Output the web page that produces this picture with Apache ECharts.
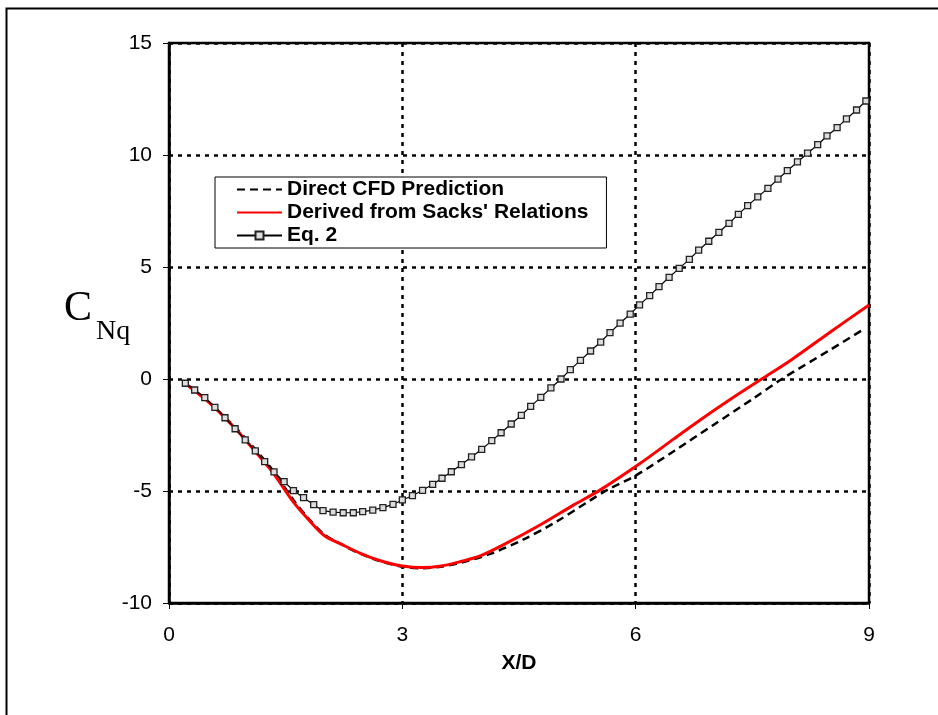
<!DOCTYPE html>
<html>
<head>
<meta charset="utf-8">
<script src="https://cdn.jsdelivr.net/npm/echarts@6/dist/echarts.min.js"></script>
<style>
html,body{margin:0;padding:0;background:#fff;}
#c{width:938px;height:715px;}
</style>
</head>
<body>
<div id="c"></div>
<script>
// ---- data ----
var seriesNames = ["Direct CFD Prediction", "Derived from Sacks' Relations", "Eq. 2"];
var xTicks = [0, 3, 6, 9];
var yTicks = [-10, -5, 0, 5, 10, 15];

var cfdX = [0.21, 0.5, 0.85, 1.1, 1.34, 1.6, 1.8, 2.0, 2.2, 2.46, 2.75, 3.0, 3.25, 3.5, 3.75, 4.13, 4.56, 4.98, 5.41, 5.63, 6.01, 6.5, 7.0, 7.5, 7.88, 8.5, 8.93];
var cfdY = [-0.2, -1.0, -2.15, -3.1, -4.1, -5.4, -6.25, -6.95, -7.35, -7.8, -8.17, -8.38, -8.45, -8.38, -8.2, -7.81, -7.16, -6.37, -5.43, -4.96, -4.29, -3.2, -2.05, -0.9, 0.0, 1.3, 2.22];

var sacksX = [0.21, 0.5, 0.85, 1.1, 1.34, 1.6, 1.8, 2.0, 2.2, 2.46, 2.75, 3.0, 3.25, 3.5, 3.75, 4.0, 4.34, 4.77, 5.2, 5.54, 6.06, 6.5, 6.83, 7.2, 7.62, 8.0, 8.54, 9.0];
var sacksY = [-0.2, -1.0, -2.2, -3.2, -4.2, -5.5, -6.3, -7.0, -7.35, -7.78, -8.15, -8.35, -8.42, -8.35, -8.15, -7.9, -7.33, -6.52, -5.63, -4.96, -3.76, -2.65, -1.83, -0.95, 0.0, 0.85, 2.19, 3.3];

var eq2X = [0.21, 0.33, 0.46, 0.59, 0.72, 0.85, 0.98, 1.11, 1.23, 1.35, 1.48, 1.60, 1.73, 1.86, 1.98, 2.11, 2.24, 2.37, 2.49, 2.62, 2.75, 2.88, 3.00, 3.13, 3.26, 3.39, 3.51, 3.63, 3.76, 3.89, 4.02, 4.15, 4.27, 4.40, 4.53, 4.65, 4.78, 4.91, 5.04, 5.16, 5.29, 5.42, 5.55, 5.67, 5.80, 5.93, 6.05, 6.18, 6.30, 6.43, 6.56, 6.69, 6.81, 6.94, 7.07, 7.20, 7.32, 7.44, 7.57, 7.70, 7.83, 7.95, 8.08, 8.21, 8.34, 8.46, 8.59, 8.71, 8.84, 8.96, 9.09];
var eq2Y = [-0.19, -0.49, -0.83, -1.27, -1.73, -2.22, -2.72, -3.21, -3.69, -4.15, -4.58, -4.98, -5.30, -5.61, -5.88, -5.94, -5.97, -5.97, -5.92, -5.85, -5.74, -5.60, -5.40, -5.21, -4.97, -4.70, -4.43, -4.14, -3.82, -3.48, -3.14, -2.75, -2.40, -2.01, -1.62, -1.22, -0.82, -0.40, 0.00, 0.42, 0.83, 1.25, 1.65, 2.07, 2.49, 2.90, 3.31, 3.72, 4.12, 4.54, 4.94, 5.34, 5.75, 6.15, 6.55, 6.95, 7.35, 7.74, 8.13, 8.51, 8.92, 9.30, 9.69, 10.08, 10.46, 10.85, 11.22, 11.61, 12.01, 12.41, 12.80];

function pairs(xs, ys) { return xs.map(function (x, i) { return [x, ys[i]]; }); }

var chart = echarts.init(document.getElementById('c'), null, {renderer: 'canvas'});
var gridDot = {color: '#000', width: 2.5, type: [4, 5]};
var option = {
  backgroundColor: '#fff',
  animation: false,
  grid: {left: 169, top: 43, right: 69, bottom: 112, show: true, borderColor: '#000', borderWidth: 2.5, backgroundColor: 'transparent'},
  xAxis: {
    type: 'value', min: xTicks[0], max: xTicks[xTicks.length - 1], interval: 3,
    axisLine: {show: true, onZero: false, lineStyle: {color: '#000', width: 2.5}},
    axisTick: {show: true, inside: false, length: 6, lineStyle: {color: '#000', width: 1}},
    axisLabel: {color: '#000', fontFamily: 'Liberation Sans', fontSize: 21, margin: 22},
    splitLine: {show: true, lineStyle: gridDot},
    name: 'X/D', nameLocation: 'middle', nameGap: 50,
    nameTextStyle: {color: '#000', fontFamily: 'Liberation Sans', fontSize: 21, fontWeight: 'bold'}
  },
  yAxis: {
    type: 'value', min: yTicks[0], max: yTicks[yTicks.length - 1], interval: 5,
    axisLine: {show: true, onZero: false, lineStyle: {color: '#000', width: 2.5}},
    axisTick: {show: true, inside: false, length: 6, lineStyle: {color: '#000', width: 1}},
    axisLabel: {color: '#000', fontFamily: 'Liberation Sans', fontSize: 21, margin: 17},
    splitLine: {show: true, lineStyle: gridDot}
  },
  legend: {
    orient: 'vertical', left: 215, top: 177,
    backgroundColor: '#fff', borderColor: '#000', borderWidth: 1,
    padding: [2, 18, 2, 21], itemGap: 2, itemWidth: 45, itemHeight: 10,
    textStyle: {color: '#000', fontFamily: 'Liberation Sans', fontSize: 21, fontWeight: 'bold', padding: [0, 0, 0, 0]},
    data: [
      {name: seriesNames[0], itemStyle: {opacity: 0}},
      {name: seriesNames[1], itemStyle: {opacity: 0}},
      {name: seriesNames[2]}
    ]
  },
  graphic: [
    {type: 'rect', left: 4, top: 6, z: -10, silent: true,
     shape: {x: 0, y: 0, width: 1000, height: 800},
     style: {fill: 'none', stroke: '#000', lineWidth: 2}},
    {type: 'text', x: 64, y: 309, z: 10,
     style: {text: 'C', font: '42px "Liberation Serif"', fill: '#000', verticalAlign: 'middle', align: 'left'}},
    {type: 'text', x: 96, y: 332, z: 10,
     style: {text: 'Nq', font: '28px "Liberation Serif"', fill: '#000', verticalAlign: 'middle', align: 'left'}}
  ],
  series: [
    {name: seriesNames[0], type: 'line', data: pairs(cfdX, cfdY), showSymbol: false, symbol: 'none', smooth: 0.3, z: 2,
     lineStyle: {color: '#000', width: 2.5, type: [8, 5]}, itemStyle: {color: '#000'}},
    {name: seriesNames[1], type: 'line', data: pairs(sacksX, sacksY), showSymbol: false, symbol: 'none', smooth: 0.3, z: 3,
     lineStyle: {color: '#ff0000', width: 3}, itemStyle: {color: '#ff0000'}},
    {name: seriesNames[2], type: 'line', data: pairs(eq2X, eq2Y), symbol: 'rect', symbolSize: 6, showSymbol: true, z: 4, clip: true,
     lineStyle: {color: '#000', width: 1.2}, itemStyle: {color: '#dddddd', borderColor: '#222', borderWidth: 1.3}}
  ]
};
chart.setOption(option);
</script>
</body>
</html>
